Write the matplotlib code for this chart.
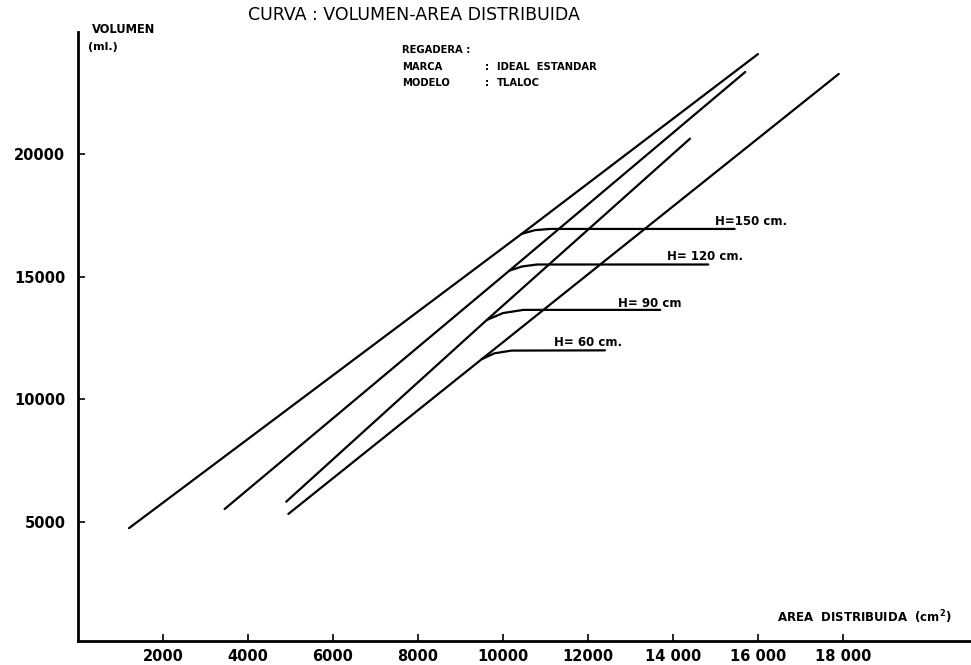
import matplotlib
matplotlib.use('Agg')
import matplotlib.pyplot as plt

plt.rcParams['font.family'] = ['DejaVu Sans']

# diagonal curves (area cm2, volume ml)
line_a_x = [1200, 10440, 16000]
line_a_y = [4750, 16750, 24080]
line_b_x = [3450, 10150, 15700]
line_b_y = [5530, 15250, 23350]
line_c_x = [4900, 9620, 14400]
line_c_y = [5830, 13240, 20630]
line_d_x = [4950, 9500, 17900]
line_d_y = [5330, 11640, 23270]

# horizontal branches for each height H
h150_x = [10440, 10750, 11100, 15450]
h150_y = [16750, 16900, 16950, 16950]
h120_x = [10150, 10450, 10800, 14830]
h120_y = [15250, 15420, 15500, 15500]
h90_x = [9620, 10000, 10480, 13700]
h90_y = [13240, 13520, 13650, 13650]
h60_x = [9500, 9800, 10200, 12400]
h60_y = [11640, 11880, 11990, 12000]

branch_labels = ['H=150 cm.', 'H= 120 cm.', 'H= 90 cm', 'H= 60 cm.']
label_x = [14990, 13850, 12700, 11200]
label_y = [17270, 15820, 13920, 12310]

x_ticks = [2000, 4000, 6000, 8000, 10000, 12000, 14000, 16000, 18000]
x_tick_labels = ['2000', '4000', '6000', '8000', '10000', '12000', '14 000', '16 000', '18 000']
y_ticks = [5000, 10000, 15000, 20000]
y_tick_labels = ['5000', '10000', '15000', '20000']

fig = plt.figure(figsize=(9.71, 6.65), dpi=100)
ax = fig.add_axes([0.0803, 0.0361, 0.9192, 0.9158])

lw = 1.6
for xs, ys in [(line_a_x, line_a_y), (line_b_x, line_b_y), (line_c_x, line_c_y), (line_d_x, line_d_y),
               (h150_x, h150_y), (h120_x, h120_y), (h90_x, h90_y), (h60_x, h60_y)]:
    ax.plot(xs, ys, color='black', lw=lw, solid_capstyle='round')

for lab, lx, ly in zip(branch_labels, label_x, label_y):
    ax.text(lx, ly, lab, fontsize=8.5, fontweight='bold', ha='left', va='center')

ax.set_xlim(0, 21000)
ax.set_ylim(150, 24980)
ax.set_xticks(x_ticks)
ax.set_xticklabels(x_tick_labels)
ax.set_yticks(y_ticks)
ax.set_yticklabels(y_tick_labels)
ax.tick_params(direction='in', length=5, width=1.2, labelsize=10.5)
ax.tick_params(axis='x', pad=6)
ax.tick_params(axis='y', pad=9)
for t in ax.get_xticklabels() + ax.get_yticklabels():
    t.set_fontweight('bold')

for s in ['top', 'right']:
    ax.spines[s].set_visible(False)
ax.spines['left'].set_linewidth(2)
ax.spines['bottom'].set_linewidth(2)

fig.text(0.2554, 0.9774, 'CURVA : VOLUMEN-AREA DISTRIBUIDA', fontsize=12.5, ha='left', va='center')

fig.text(0.0944, 0.956, 'VOLUMEN', fontsize=8.3, fontweight='bold', ha='left', va='center')
fig.text(0.0906, 0.9298, '(ml.)', fontsize=8, fontweight='bold', ha='left', va='center')

fig.text(0.4137, 0.9248, 'REGADERA :', fontsize=7.2, fontweight='bold', ha='left', va='center')
fig.text(0.4137, 0.8997, 'MARCA', fontsize=7.2, fontweight='bold', ha='left', va='center')
fig.text(0.4137, 0.8756, 'MODELO', fontsize=7.2, fontweight='bold', ha='left', va='center')
fig.text(0.4995, 0.8997, ':', fontsize=7.2, fontweight='bold', ha='left', va='center')
fig.text(0.4995, 0.8756, ':', fontsize=7.2, fontweight='bold', ha='left', va='center')
fig.text(0.5115, 0.8997, 'IDEAL  ESTANDAR', fontsize=7.2, fontweight='bold', ha='left', va='center')
fig.text(0.5115, 0.8756, 'TLALOC', fontsize=7.2, fontweight='bold', ha='left', va='center')

fig.text(0.8002, 0.0722, r'AREA  DISTRIBUIDA  (cm$^{\mathbf{2}}$)', fontsize=8.5, fontweight='bold',
         ha='left', va='center')

fig.savefig('out.png', dpi=100)
